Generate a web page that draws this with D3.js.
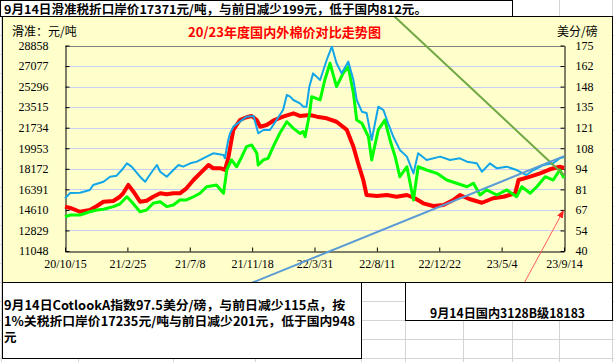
<!DOCTYPE html>
<html>
<head>
<meta charset="utf-8">
<script src="https://cdn.jsdelivr.net/npm/d3@7"></script>
<style>
body { margin: 0; background: #fff; }
svg { display: block; }
</style>
</head>
<body>
<div id="chart"></div>
<script>
// x of every point = days after 2020-10-15
var startDate = "2020-10-15";

var xTickDates = ["2020-10-15", "2021-02-25", "2021-07-08", "2021-11-18", "2022-03-31",
                  "2022-08-11", "2022-12-22", "2023-05-04", "2023-09-14"];
var leftTicks = [11048, 12829, 14610, 16391, 18172, 19953, 21734, 23515, 25296, 27077, 28858];
var rightTicks = [40, 53.5, 67, 80.5, 94, 107.5, 121, 134.5, 148, 161.5, 175];

// 国内3128B 元/吨
var redDays = [0, 11, 32, 53, 68, 82, 103, 117, 124, 135, 146, 160, 174, 188, 203, 217, 231, 245,
               259, 274, 288, 306, 316, 331, 341, 348, 355, 359, 373, 387, 398, 409, 416, 430,
               444, 465, 487, 501, 522, 537, 558, 579, 601, 615, 625, 636, 643, 665, 686, 707,
               729, 746, 764, 785, 807, 828, 842, 864, 889, 913, 935, 960, 967, 992, 1013, 1034,
               1055, 1064];
var redValues = [14890, 14780, 14450, 14600, 14950, 15320, 15380, 15750, 16050, 16770, 16190,
                 15320, 15410, 15750, 16050, 15960, 16050, 16050, 16480, 17200, 17780, 18500,
                 18220, 18220, 18070, 19080, 20670, 21540, 22400, 22640, 22750, 22400, 21820,
                 21970, 22340, 22690, 22980, 22750, 22840, 22690, 22550, 22250, 21540, 20090,
                 18650, 17200, 15900, 15820, 15900, 15750, 15900, 15620, 15180, 14950, 15040,
                 15470, 15900, 15530, 15230, 15620, 15750, 16050, 17200, 17490, 17780, 18130,
                 18350, 18240];

// 进口棉 1%关税折口岸价 元/吨
var greenDays = [0, 11, 32, 53, 68, 82, 103, 117, 132, 142, 160, 174, 188, 203, 217, 231, 245,
                 259, 274, 288, 302, 323, 338, 345, 355, 366, 377, 387, 398, 409, 412, 423, 433,
                 444, 458, 473, 487, 501, 508, 512, 521, 526, 544, 554, 565, 579, 593, 604, 615,
                 622, 633, 647, 654, 668, 682, 693, 704, 714, 729, 743, 753, 771, 793, 814, 835,
                 857, 871, 885, 899, 921, 942, 963, 974, 992, 1006, 1024, 1041, 1055, 1064];
var greenValues = [14020, 14170, 14170, 14450, 14600, 14660, 14890, 15120, 15750, 15320, 14450,
                   14600, 15180, 15320, 14890, 15040, 15470, 15470, 15750, 16050, 16620, 16770,
                   16050, 18070, 18940, 18350, 19220, 20090, 20240, 19520, 18500, 18940, 19080,
                   20090, 21250, 22250, 21680, 21240, 21390, 20950, 22840, 24420, 24140, 25870,
                   27320, 25290, 26450, 27020, 24720, 22400, 22120, 20950, 18940, 21540, 22400,
                   20670, 19220, 17490, 18350, 15470, 18350, 18070, 17780, 17200, 16920, 16620,
                   16920, 15900, 16340, 15900, 16340, 15750, 16620, 16050, 16620, 17490, 17200,
                   18070, 17380];

// CotlookA 美分/磅
var blueDays = [0, 11, 32, 53, 60, 82, 96, 110, 121, 132, 142, 160, 171, 178, 188, 196, 203, 217,
                231, 242, 252, 267, 281, 302, 316, 338, 341, 348, 352, 359, 373, 387, 402, 412,
                423, 437, 451, 465, 473, 480, 487, 501, 508, 515, 521, 529, 544, 558, 569, 579,
                590, 604, 615, 622, 633, 643, 654, 668, 679, 689, 700, 714, 729, 743, 753, 771,
                800, 821, 842, 857, 878, 889, 906, 921, 942, 963, 984, 999, 1020, 1041, 1055, 1064];
var blueValues = [74.6, 78.1, 78.3, 80.1, 83.4, 85.5, 88.8, 89.5, 93.2, 97.6, 95.4, 88.8, 85.5,
                  88.8, 93.2, 96.5, 92.1, 88.8, 93.2, 96.5, 95.4, 97.6, 98.7, 102.0, 104.2, 103.1,
                  100.9, 112.9, 117.3, 121.7, 125.0, 128.2, 128.7, 117.3, 119.5, 119.5, 126.1,
                  132.6, 142.5, 141.4, 139.2, 137.0, 134.8, 134.8, 147.9, 156.7, 152.3, 165.5,
                  174.2, 163.3, 156.7, 164.4, 152.3, 139.2, 131.5, 130.7, 112.9, 134.8, 132.6,
                  123.9, 115.1, 106.4, 102.0, 91.0, 104.2, 99.8, 102.0, 99.8, 100.9, 98.7, 97.6,
                  92.1, 97.6, 94.3, 95.4, 93.2, 89.9, 93.2, 96.5, 97.6, 100.9, 101.8];

// hand drawn lines on the sheet (date, 元/吨)
var trendGreen = [["2022-08-11", 32800], ["2023-09-14", 17640]];
var trendBlue = [["2021-10-11", 7670], ["2023-09-14", 19270]];
var arrowRed = [["2023-06-13", 7670], ["2023-09-12", 14470]];

var topNote = "9月14日滑准税折口岸价17371元/吨，与前日减少199元，低于国内812元。";
var leftNote = ["9月14日CotlookA指数97.5美分/磅，与前日减少115点，按",
                "1%关税折口岸价17235元/吨与前日减少201元，低于国内948",
                "元"];
var rightNote = "9月14日国内3128B级18183";

var width = 614, height = 362;
var plot = {left: 65, right: 564, top: 45.5, bottom: 251};
var parseDate = d3.timeParse("%Y-%m-%d");
var cjk = "'Noto Sans CJK SC', sans-serif";
var serif = "'Liberation Serif', 'DejaVu Serif', serif";

var svg = d3.select("#chart")
        .append("svg")
        .attr("width", width)
        .attr("height", height);

//Sheet cells

var sheet = svg.append("g").attr("stroke", "#d4d4d4").attr("stroke-width", 1);
d3.range(16.5, height, 19).forEach(function (y) {
    sheet.append("line").attr("x1", 0).attr("x2", width).attr("y1", y).attr("y2", y);
});
[1.5, 78.5, 173.5, 255.5, 361.5, 405.5, 463.5, 512.5, 559.5, 612.5].forEach(function (x) {
    sheet.append("line").attr("x1", x).attr("x2", x).attr("y1", 0).attr("y2", height);
});

//Chart area

svg.append("rect")
        .attr("x", 2.5).attr("y", 16.5)
        .attr("width", 610).attr("height", 266)
        .attr("fill", "#ffffcc")
        .attr("stroke", "#000");

//Scales

var start = parseDate(startDate);
function dayToDate(n) {
    return d3.timeDay.offset(start, n);
}

var x = d3.scaleTime()
        .domain([parseDate(xTickDates[0]), parseDate(xTickDates[xTickDates.length - 1])])
        .range([plot.left, plot.right]);
var yLeft = d3.scaleLinear()
        .domain([leftTicks[0], leftTicks[leftTicks.length - 1]])
        .range([plot.bottom, plot.top]);
var yRight = d3.scaleLinear()
        .domain([rightTicks[0], rightTicks[rightTicks.length - 1]])
        .range([plot.bottom, plot.top]);

//Grid

svg.append("g")
        .selectAll("line")
        .data(leftTicks.slice(1))
        .enter()
        .append("line")
        .attr("x1", plot.left).attr("x2", plot.right)
        .attr("y1", function (d) { return Math.round(yLeft(d)) + 0.5; })
        .attr("y2", function (d) { return Math.round(yLeft(d)) + 0.5; })
        .attr("stroke", function (d, i) { return i == leftTicks.length - 2 ? "#808080" : "#c8cff0"; })
        .attr("stroke-width", 1);

//Axes

var fmtX = d3.timeFormat("%y/%-m/%-d");

var gx = svg.append("g")
        .attr("transform", "translate(0," + (plot.bottom + 0.5) + ")")
        .call(d3.axisBottom(x)
                .tickValues(xTickDates.map(parseDate))
                .tickFormat(fmtX)
                .tickSizeInner(-4).tickSizeOuter(0).tickPadding(8));

var gl = svg.append("g")
        .attr("transform", "translate(" + (plot.left + 0.5) + ",0)")
        .call(d3.axisLeft(yLeft)
                .tickValues(leftTicks)
                .tickFormat(d3.format("d"))
                .tickSizeInner(-4).tickSizeOuter(0).tickPadding(17));

var gr = svg.append("g")
        .attr("transform", "translate(" + (plot.right + 0.5) + ",0)")
        .call(d3.axisRight(yRight)
                .tickValues(rightTicks)
                .tickFormat(function (d) { return Math.round(d); })
                .tickSizeInner(-4).tickSizeOuter(0).tickPadding(11));

[gx, gl, gr].forEach(function (g) {
    g.select(".domain").attr("stroke", "#000");
    g.selectAll(".tick line").attr("stroke", "#000");
    g.selectAll("text")
            .attr("fill", "#000")
            .style("font-family", serif)
            .style("font-size", "12px");
});

//Series

function drawSeries(days, values, yScale, color, w) {
    var line = d3.line()
            .x(function (d, i) { return x(dayToDate(days[i])); })
            .y(function (d) { return yScale(d); });
    svg.append("path")
            .datum(values)
            .attr("d", line)
            .attr("fill", "none")
            .attr("stroke", color)
            .attr("stroke-width", w)
            .attr("stroke-linejoin", "round");
}

drawSeries(redDays, redValues, yLeft, "#ff0000", 4);
drawSeries(greenDays, greenValues, yLeft, "#00ff00", 3);
drawSeries(blueDays, blueValues, yRight, "#12a6e8", 2);

//Drawn lines

var lineAnno = d3.line()
        .x(function (d) { return x(parseDate(d[0])); })
        .y(function (d) { return yLeft(d[1]); });

svg.append("marker")
        .attr("id", "arrow")
        .attr("markerUnits", "userSpaceOnUse")
        .attr("markerWidth", 8)
        .attr("markerHeight", 8)
        .attr("viewBox", "0 0 10 10")
        .attr("refX", 8)
        .attr("refY", 5)
        .attr("orient", "auto")
        .append("path")
        .attr("d", "M0,1 L10,5 L0,9 Z")
        .attr("fill", "#ff2020");

svg.append("path")
        .datum(trendGreen)
        .attr("d", lineAnno)
        .attr("stroke", "#70a845")
        .attr("stroke-width", 2)
        .attr("fill", "none");

svg.append("path")
        .datum(trendBlue)
        .attr("d", lineAnno)
        .attr("stroke", "#5b9bd5")
        .attr("stroke-width", 2)
        .attr("fill", "none");

svg.append("path")
        .datum(arrowRed)
        .attr("d", lineAnno)
        .attr("stroke", "#ff5a5a")
        .attr("stroke-width", 1)
        .attr("fill", "none")
        .attr("marker-end", "url(#arrow)");

//Titles

svg.append("text")
        .attr("x", 284.5).attr("y", 37)
        .attr("text-anchor", "middle")
        .attr("textLength", 193).attr("lengthAdjust", "spacingAndGlyphs")
        .style("font-family", cjk).style("font-size", "13px").style("font-weight", "bold")
        .attr("fill", "#ff0000")
        .text("20/23年度国内外棉价对比走势图");

svg.append("text")
        .attr("x", 12).attr("y", 36)
        .style("font-family", cjk).style("font-size", "12px")
        .attr("fill", "#000")
        .text("滑准：元/吨");

svg.append("text")
        .attr("x", 557).attr("y", 36)
        .style("font-family", cjk).style("font-size", "12px")
        .attr("fill", "#000")
        .text("美分/磅");

//Text boxes

function box(x0, y0, w, h) {
    svg.append("rect")
            .attr("x", x0).attr("y", y0)
            .attr("width", w).attr("height", h)
            .attr("fill", "#fff")
            .attr("stroke", "#000")
            .attr("stroke-width", 1);
}

function note(str, x0, y0, size, len) {
    var t = svg.append("text")
            .attr("x", x0).attr("y", y0)
            .style("font-family", cjk).style("font-size", size + "px").style("font-weight", "bold")
            .attr("fill", "#000")
            .text(str);
    if (len) t.attr("textLength", len).attr("lengthAdjust", "spacingAndGlyphs");
}

box(0.5, 0.5, 512, 16);
note(topNote, 4, 14, 12, 423);

box(2.5, 282.5, 359, 76);
note(leftNote[0], 4, 310, 12.5, 341);
note(leftNote[1], 4, 326, 12.5, 351);
note(leftNote[2], 4, 342, 12.5);

box(405.5, 282.5, 207, 38);
note(rightNote, 430, 318, 12.5, 155);
</script>
</body>
</html>
